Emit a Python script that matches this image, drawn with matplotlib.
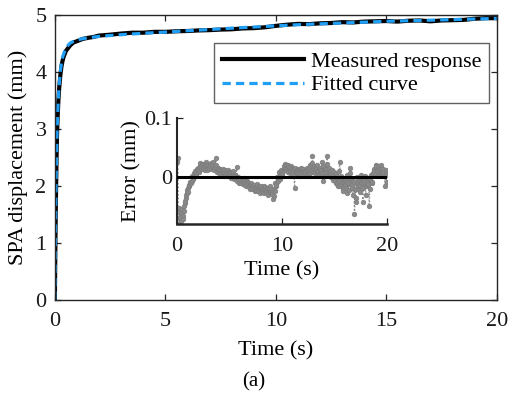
import numpy as np
import matplotlib
matplotlib.use("Agg")
import matplotlib.pyplot as plt

OUTPUT_FILE = "out.png"

# fitted creep curve (mm)
t_fit = [0, 0.01, 0.02, 0.04, 0.06, 0.08, 0.1, 0.13, 0.16, 0.2, 0.25, 0.3,
         0.35, 0.4, 0.5, 0.6, 0.7, 0.85, 1.0, 1.25, 1.5, 2, 2.5, 3, 4, 5, 6,
         7, 8, 9, 10, 11, 12, 13, 14, 15, 16, 17, 18, 19, 20]
fit = [0, 0.45, 0.9, 1.6, 2.15, 2.6, 2.95, 3.3, 3.55, 3.8, 4.02, 4.17,
       4.26, 4.32, 4.42, 4.47, 4.51, 4.54, 4.56, 4.585, 4.60, 4.625, 4.64,
       4.655, 4.68, 4.70, 4.725, 4.745, 4.77, 4.79, 4.81, 4.83, 4.845, 4.86,
       4.875, 4.89, 4.90, 4.91, 4.92, 4.93, 4.94]

# measured response (mm)
t_meas = [0, 0.01, 0.02, 0.04, 0.06, 0.08, 0.1, 0.13, 0.16, 0.2, 0.25, 0.3,
          0.35, 0.4, 0.5, 0.6, 0.7, 0.85, 1.0, 1.25, 1.5, 1.75, 2, 2.5, 3,
          3.5, 4, 4.5, 5, 5.5, 6, 6.5, 7, 7.5, 8, 8.5, 9, 9.5, 10, 10.5, 11,
          11.5, 12, 12.5, 13, 13.5, 14, 14.5, 15, 15.5, 16, 16.5, 17, 17.5,
          18, 18.5, 19, 19.5, 20]
meas = [0, 0.40, 0.85, 1.55, 2.10, 2.58, 2.93, 3.26, 3.50, 3.74, 3.95, 4.10,
        4.20, 4.27, 4.37, 4.42, 4.47, 4.52, 4.54, 4.58, 4.60, 4.615, 4.64,
        4.655, 4.675, 4.69, 4.69, 4.705, 4.705, 4.715, 4.72, 4.73, 4.735,
        4.745, 4.75, 4.765, 4.77, 4.785, 4.81, 4.83, 4.845, 4.84, 4.855,
        4.86, 4.875, 4.87, 4.885, 4.89, 4.895, 4.885, 4.90, 4.905, 4.89,
        4.905, 4.91, 4.915, 4.935, 4.945, 4.945]

# fitting error (mm), first two samples go off scale
t_err_start = [0.0, 0.02]
err_start = [0.15, -0.15]
# samples at 0.1, 0.2, ... 20.0 s
err = [
    0.032, -0.052, -0.068, -0.075, -0.062, -0.071, -0.050, -0.040, -0.030, -0.022,
    -0.025, -0.013, -0.010, -0.006, -0.002, 0.001, 0.004, 0.002, 0.009, 0.011,
    0.008, 0.019, 0.014, 0.022, 0.016, 0.018, 0.012, 0.020, 0.015, 0.021,
    0.013, 0.018, 0.024, 0.016, 0.014, 0.019, 0.032, 0.012, 0.015, 0.010,
    0.013, 0.008, 0.011, 0.006, 0.009, 0.004, 0.007, 0.010, 0.005, 0.006,
    0.002, 0.008, 0.003, 0.000, 0.004, -0.002, 0.017, -0.004, -0.008, -0.003,
    -0.009, -0.006, -0.012, -0.007, -0.011, -0.014, -0.009, -0.013, -0.017, -0.012,
    -0.015, -0.019, -0.014, -0.018, -0.022, -0.016, -0.020, -0.015, -0.021, -0.018,
    -0.024, -0.019, -0.016, -0.022, -0.026, -0.020, -0.023, -0.018, -0.025, -0.021,
    -0.029, -0.033, -0.024, -0.015, -0.008, -0.003, 0.002, -0.004, 0.006, 0.003,
    0.010, 0.018, 0.013, 0.020, 0.015, 0.009, 0.017, 0.012, 0.016, 0.010,
    0.014, -0.018, 0.008, 0.012, 0.007, 0.011, 0.005, 0.013, 0.008, 0.004,
    0.010, 0.006, 0.012, 0.003, 0.009, 0.014, 0.007, 0.018, 0.036, 0.015,
    0.010, 0.017, 0.008, 0.012, 0.005, 0.014, 0.009, 0.026, -0.007, 0.011,
    0.006, 0.013, 0.036, 0.008, 0.003, 0.010, 0.005, 0.001, -0.005, 0.004,
    -0.010, 0.002, -0.016, -0.006, 0.026, -0.012, -0.004, -0.020, -0.008, -0.014,
    -0.003, -0.027, -0.010, -0.002, 0.016, -0.008, -0.018, -0.006, -0.062, -0.042,
    -0.012, -0.020, -0.004, -0.014, -0.008, -0.002, -0.042, -0.010, 0.002, -0.016,
    -0.006, -0.012, -0.050, -0.004, 0.003, -0.008, 0.006, 0.010, 0.020, 0.012,
    0.004, 0.014, 0.008, 0.016, 0.010, 0.005, 0.009, -0.015, 0.006, 0.004,
]
# samples at 0.05, 0.15, ... 19.95 s
err_mid = [
    0.025, -0.060, -0.070, -0.078, -0.055, -0.066, -0.058, -0.044, -0.035, -0.028,
    -0.018, -0.016, -0.008, -0.011, 0.002, -0.003, 0.007, 0.010, 0.005, 0.014,
    0.015, 0.012, 0.024, 0.018, 0.013, 0.022, 0.017, 0.025, 0.011, 0.019,
    0.016, 0.022, 0.014, 0.020, 0.026, 0.011, 0.017, 0.021, 0.009, 0.014,
    0.007, 0.012, 0.005, 0.014, 0.003, 0.011, 0.008, 0.002, 0.012, 0.009,
    0.005, -0.001, 0.006, 0.010, -0.004, 0.003, 0.001, -0.006, 0.000, -0.010,
    -0.004, -0.011, -0.008, -0.002, -0.013, -0.016, -0.006, -0.010, -0.015, -0.020,
    -0.010, -0.017, -0.021, -0.013, -0.024, -0.017, -0.012, -0.023, -0.019, -0.027,
    -0.015, -0.021, -0.028, -0.017, -0.024, -0.019, -0.030, -0.022, -0.016, -0.027,
    -0.025, -0.038, -0.020, -0.011, -0.013, 0.000, -0.006, 0.008, 0.001, 0.012,
    0.006, 0.014, 0.022, 0.011, 0.017, 0.021, 0.013, 0.006, 0.019, 0.014,
    0.009, 0.004, 0.015, 0.010, 0.006, 0.014, 0.002, 0.011, 0.016, 0.007,
    0.013, 0.008, 0.001, 0.016, 0.011, 0.005, 0.020, 0.012, 0.024, 0.009,
    0.019, 0.006, 0.013, 0.021, 0.010, 0.003, 0.016, 0.011, 0.007, 0.018,
    0.013, 0.002, 0.022, 0.009, 0.015, 0.006, 0.000, 0.012, -0.002, 0.008,
    -0.006, 0.005, -0.012, -0.001, 0.010, -0.015, 0.001, -0.009, -0.024, -0.005,
    -0.018, 0.004, -0.012, -0.022, 0.006, -0.004, -0.014, -0.030, -0.009, -0.020,
    -0.035, 0.000, -0.016, -0.007, -0.025, 0.003, -0.011, -0.019, -0.005, -0.030,
    -0.002, -0.014, -0.004, -0.020, 0.001, -0.010, 0.004, 0.013, 0.007, 0.018,
    0.010, 0.019, 0.006, 0.012, 0.021, 0.008, 0.013, 0.002, 0.011, -0.008,
]

FONT = "Liberation Serif"
AX_COLOR = "#262626"
BLUE = "#1f9ff5"
GRAY = "#8a8a8a"


def error_series():
    t_full = np.round(np.arange(1, len(err) + 1) * 0.1, 2)
    t_half = np.round(np.arange(len(err_mid)) * 0.1 + 0.05, 2)
    t = np.concatenate([t_err_start, t_full, t_half])
    e = np.concatenate([err_start, err, err_mid])
    order = np.argsort(t, kind="stable")
    return t[order], e[order]


def style_axes(ax):
    for side in ax.spines.values():
        side.set_color(AX_COLOR)
        side.set_linewidth(1.0)
    ax.tick_params(direction="in", length=4, width=0.9, colors=AX_COLOR,
                   labelcolor="#1a1a1a", labelsize=16)


def main():
    plt.rcParams["font.family"] = [FONT, "DejaVu Serif"]

    fig = plt.figure(figsize=(5.08, 3.96), dpi=100)
    ax = fig.add_axes([0.108, 0.243, 0.870, 0.719])

    ax.plot(t_meas, meas, color="black", lw=3.0, label="Measured response",
            solid_joinstyle="round")
    ax.plot(t_fit, fit, color=BLUE, lw=2.3, dashes=(2.6, 1.6),
            label="Fitted curve")
    ax.set_xlim(0, 20)
    ax.set_ylim(0, 5)
    ax.set_xticks([0, 5, 10, 15, 20])
    ax.set_yticks([0, 1, 2, 3, 4, 5])
    ax.tick_params(top=True, right=True)
    style_axes(ax)
    ax.tick_params(axis="x", pad=9)
    ax.tick_params(axis="y", pad=6)
    ax.set_xlabel("Time (s)", fontsize=16, labelpad=7)
    ax.set_ylabel("SPA displacement (mm)", fontsize=16, labelpad=5)

    leg = ax.legend(loc="upper right", bbox_to_anchor=(0.982, 0.901),
                    borderaxespad=0, fontsize=16, frameon=True,
                    fancybox=False, handlelength=3.7, handletextpad=0.3,
                    labelspacing=0.15, borderpad=0.35)
    leg.get_frame().set_edgecolor("#3a3a3a")
    leg.get_frame().set_linewidth(1.0)

    # inset with the fitting error
    t_e, e_all = error_series()
    ins = fig.add_axes([0.348, 0.434, 0.414, 0.268])
    ins.patch.set_alpha(0)
    ins.plot(t_e, e_all, linestyle=":", color=GRAY, lw=1.0, marker="o",
             markersize=3.3, markerfacecolor=GRAY,
             markeredgecolor="#7d7d7d", markeredgewidth=0.5)
    ins.plot([0, 20], [0, 0], color="black", lw=2.2, zorder=5)
    ins.set_xlim(0, 20)
    ins.set_ylim(-0.08, 0.1)
    ins.set_xticks([0, 10, 20])
    ins.set_yticks([0, 0.1])
    ins.set_yticklabels(["0", "0.1"])
    ins.spines["top"].set_visible(False)
    ins.spines["right"].set_visible(False)
    style_axes(ins)
    ins.spines["left"].set_linewidth(1.5)
    ins.spines["bottom"].set_linewidth(1.8)
    ins.tick_params(axis="x", pad=9)
    ins.set_xlabel("Time (s)", fontsize=16, labelpad=4)
    ins.set_ylabel("Error (mm)", fontsize=16, labelpad=2)

    fig.text(0.5, 0.035, "(a)", ha="center", va="center", fontsize=15)

    fig.savefig(OUTPUT_FILE, dpi=100)
    plt.close(fig)


if __name__ == "__main__":
    main()
